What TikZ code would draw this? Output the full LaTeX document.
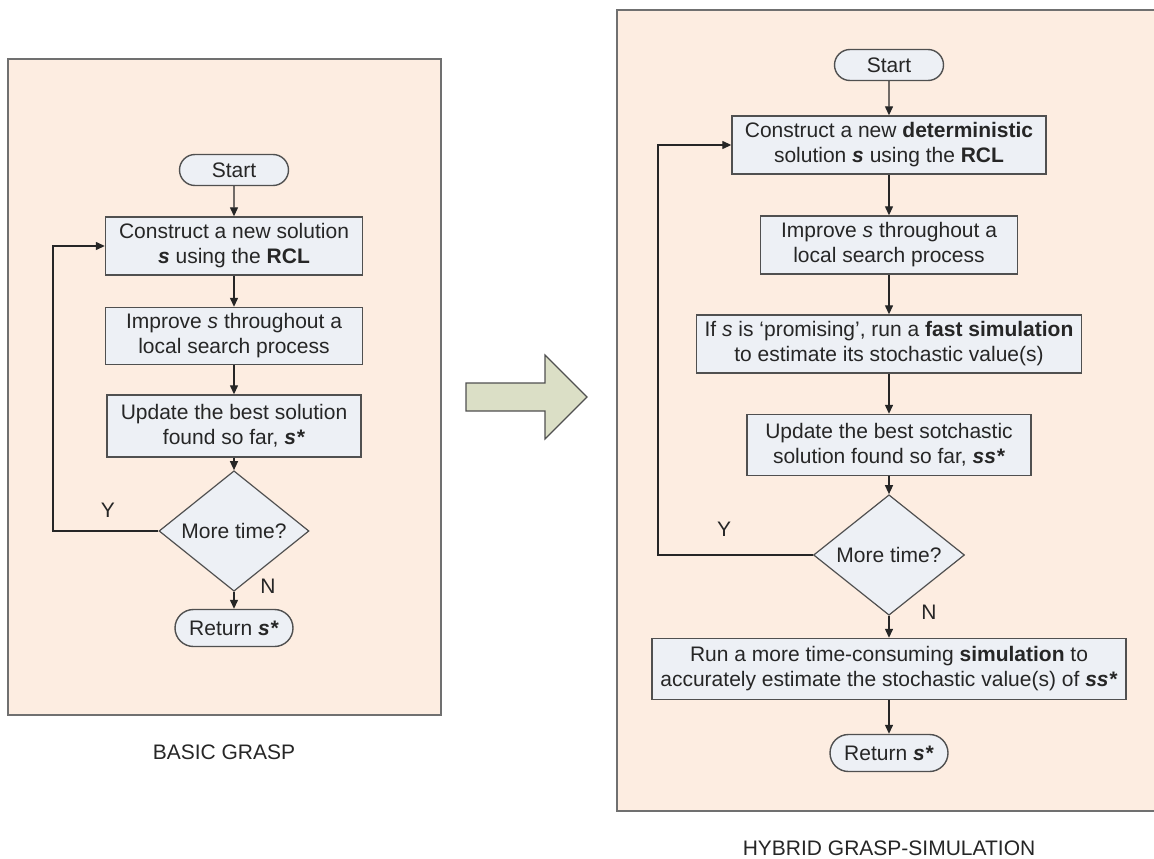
\documentclass[tikz,border=0pt]{standalone}
\usepackage{fontspec}
\setmainfont{Liberation Sans}
\usetikzlibrary{arrows.meta,positioning,shapes.geometric,shapes.misc}
\definecolor{graspPanel}{HTML}{FDEDE1}
\definecolor{graspBox}{HTML}{EDF0F5}
\definecolor{graspLine}{HTML}{505050}
\definecolor{graspFrame}{HTML}{707070}
\definecolor{graspArrow}{HTML}{DBDFC6}
\definecolor{graspText}{HTML}{262626}

\begin{document}
\begin{tikzpicture}[x=1pt,y=-1pt,
    font=\fontsize{21}{25}\selectfont,text=graspText,
    procbox/.style={draw=graspLine,fill=graspBox,line width=1.4pt,align=center,
                  inner sep=2pt,minimum height=58pt},
    termbox/.style={rounded rectangle,draw=graspLine,fill=graspBox,line width=1.4pt,
                  inner sep=2pt},
    decbox/.style={diamond,draw=graspLine,fill=graspBox,line width=1.2pt,
                  inner sep=0pt,minimum width=150pt,minimum height=89pt},
    lab/.style={inner sep=0pt},
    arr/.style={-{Triangle[length=9pt,width=8pt]},line width=1.3pt,draw=black!85}]
  \useasboundingbox (0,0) rectangle (1154,859);
  % panels and the big arrow
  \filldraw[fill=graspPanel,draw=graspFrame,line width=1.6pt] (8,59) rectangle (441,715);
  \fill[graspPanel] (617,10) rectangle (1154,811);
  \draw[graspFrame,line width=1.6pt] (1154,10) -- (617,10) -- (617,811) -- (1154,811);
  \filldraw[fill=graspArrow,draw=graspLine,line width=1.2pt,line join=miter]
    (466,383) -- (545,383) -- (545,355) -- (587,397) -- (545,439) -- (545,411) -- (466,411) -- cycle;
  % basic grasp
  \node[termbox,minimum width=113pt,minimum height=31pt] (bStart) at (234,170) {Start};
  \node[procbox,minimum width=257pt] (bBuild) at (234,246)
    {Construct a new solution\\\textbf{\textit{s}} using the \textbf{RCL}};
  \node[procbox,minimum width=257pt,minimum height=57pt] (bImprove) at (234,336)
    {Improve \textit{s} throughout a\\local search process};
  \node[procbox,minimum width=254pt,minimum height=62pt] (bUpdate) at (234,426)
    {Update the best solution\\found so far, \textbf{\textit{s*}}};
  \node[decbox] (bMore) at (234,531) {More time?};
  \node[termbox,minimum width=122pt,minimum height=37pt] (bReturn) at (234,628) {Return \textbf{\textit{s*}}};
  \coordinate (bLoop) at (53,531);
  \node[lab] (bYes) at (108,510) {Y};
  \node[lab] (bNo) at (268,586) {N};
  \node[lab] (bTitle) at (224,752) {BASIC GRASP};
  \draw[arr] (bStart) -- (bBuild); \draw[arr] (bBuild) -- (bImprove);
  \draw[arr] (bImprove) -- (bUpdate); \draw[arr] (bUpdate) -- (bMore);
  \draw[arr] (bMore) -- (bReturn);
  \draw[arr] (bMore.west) -- (bLoop) |- (bBuild.west);
  % hybrid grasp-simulation
  \node[termbox,minimum width=113pt,minimum height=31pt] (rStart) at (889,65) {Start};
  \node[procbox,minimum width=314pt] (rBuild) at (889,145)
    {Construct a new \textbf{deterministic}\\solution \textbf{\textit{s}} using the \textbf{RCL}};
  \node[procbox,minimum width=257pt] (rImprove) at (889,245)
    {Improve \textit{s} throughout a\\local search process};
  \node[procbox,minimum width=385pt] (rSim) at (889,344)
    {If \textit{s} is `promising', run a \textbf{fast simulation}\\to estimate its stochastic value(s)};
  \node[procbox,minimum width=284pt,minimum height=61pt] (rUpdate) at (889,445)
    {Update the best sotchastic\\solution found so far, \textbf{\textit{ss*}}};
  \node[decbox,minimum width=151pt] (rMore) at (889,555) {More time?};
  \node[procbox,minimum width=474pt,minimum height=61pt] (rRun) at (889,669)
    {Run a more time-consuming \textbf{simulation} to\\accurately estimate the stochastic value(s) of \textbf{\textit{ss*}}};
  \node[termbox,minimum width=122pt,minimum height=37pt] (rReturn) at (889,753) {Return \textbf{\textit{s*}}};
  \coordinate (rLoop) at (658,555);
  \node[lab] (rYes) at (724,529) {Y};
  \node[lab] (rNo) at (929,612) {N};
  \node[lab] (rTitle) at (889,848) {HYBRID GRASP-SIMULATION};
  \draw[arr] (rStart) -- (rBuild); \draw[arr] (rBuild) -- (rImprove);
  \draw[arr] (rImprove) -- (rSim); \draw[arr] (rSim) -- (rUpdate);
  \draw[arr] (rUpdate) -- (rMore); \draw[arr] (rMore) -- (rRun);
  \draw[arr] (rRun) -- (rReturn);
  \draw[arr] (rMore.west) -- (rLoop) |- (rBuild.west);
\end{tikzpicture}
\end{document}
